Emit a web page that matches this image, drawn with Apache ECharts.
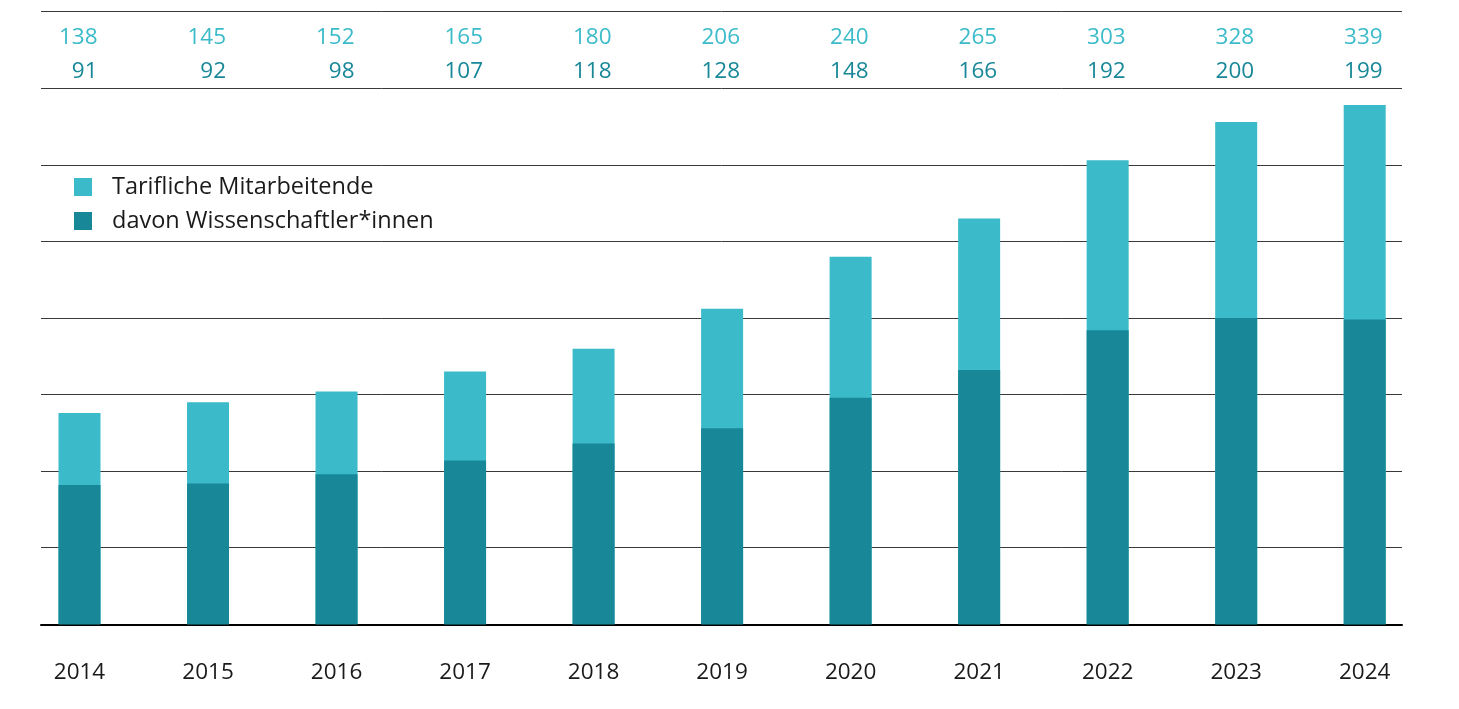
<!DOCTYPE html>
<html>
<head>
<meta charset="utf-8">
<script src="https://cdn.jsdelivr.net/npm/echarts@6/dist/echarts.min.js"></script>
<style>
html,body{margin:0;padding:0;background:#fff;}
#c{width:1459px;height:709px;}
</style>
</head>
<body>
<div id="c"></div>
<script>
var years = ['2014','2015','2016','2017','2018','2019','2020','2021','2022','2023','2024'];
var totals = [138,145,152,165,180,206,240,265,303,328,339];
var scientists = [91,92,98,107,118,128,148,166,192,200,199];
var seriesNames = ['Tarifliche Mitarbeitende','davon Wissenschaftler*innen'];

var LIGHT = '#3bbbc9';
var DARK = '#188898';
var FONT = 'Open Sans';

var chart = echarts.init(document.getElementById('c'));
chart.setOption({
  animation: false,
  backgroundColor: '#fff',
  textStyle: { fontFamily: FONT },
  legend: {
    orient: 'vertical',
    left: 74,
    top: 175,
    padding: 0,
    icon: 'rect',
    itemWidth: 18,
    itemHeight: 18,
    itemGap: 10,
    data: seriesNames,
    textStyle: { fontFamily: FONT, fontSize: 23.5, color: '#1a1a1a', padding: [0,0,0,15] }
  },
  grid: [
    { left: 41, right: 57, top: 11.7, bottom: 84.7 },
    { left: 79.5, right: 94.3, top: 11.7, bottom: 84.7 }
  ],
  xAxis: [
    { gridIndex: 0, type: 'value', min: 0, max: 1,
      axisLine: { show: true, lineStyle: { color: '#000', width: 2 } },
      axisTick: { show: false }, axisLabel: { show: false }, splitLine: { show: false } },
    { gridIndex: 1, type: 'category', data: years, boundaryGap: false,
      axisLine: { show: false }, axisTick: { show: false },
      axisLabel: { interval: 0, margin: 37, fontFamily: FONT, fontSize: 22.5, color: '#1a1a1a' } },
    { gridIndex: 1, type: 'category', data: years, boundaryGap: false, position: 'top',
      axisLine: { show: false }, axisTick: { show: false },
      axisLabel: {
        interval: 0, inside: true, margin: 9,
        formatter: function (v, i) { return '{a|' + totals[i] + '}\n{b|' + scientists[i] + '}'; },
        rich: {
          a: { color: LIGHT, fontFamily: FONT, fontSize: 22.5, lineHeight: 34, width: 36, align: 'right' },
          b: { color: DARK, fontFamily: FONT, fontSize: 22.5, lineHeight: 34, width: 36, align: 'right' }
        }
      } }
  ],
  yAxis: [
    { gridIndex: 0, type: 'value', min: 0, max: 400, interval: 50,
      axisLine: { show: false }, axisTick: { show: false }, axisLabel: { show: false },
      splitLine: { show: true, lineStyle: { color: '#3a3a3a', width: 1 } } },
    { gridIndex: 1, type: 'value', min: 0, max: 400, interval: 50,
      axisLine: { show: false }, axisTick: { show: false }, axisLabel: { show: false },
      splitLine: { show: false } }
  ],
  series: [
    { name: seriesNames[0], type: 'bar', xAxisIndex: 1, yAxisIndex: 1, data: totals,
      barWidth: 42, barGap: '-100%', clip: false, itemStyle: { color: LIGHT } },
    { name: seriesNames[1], type: 'bar', xAxisIndex: 1, yAxisIndex: 1, data: scientists,
      barWidth: 42, barGap: '-100%', clip: false, itemStyle: { color: DARK } }
  ]
});
</script>
</body>
</html>
